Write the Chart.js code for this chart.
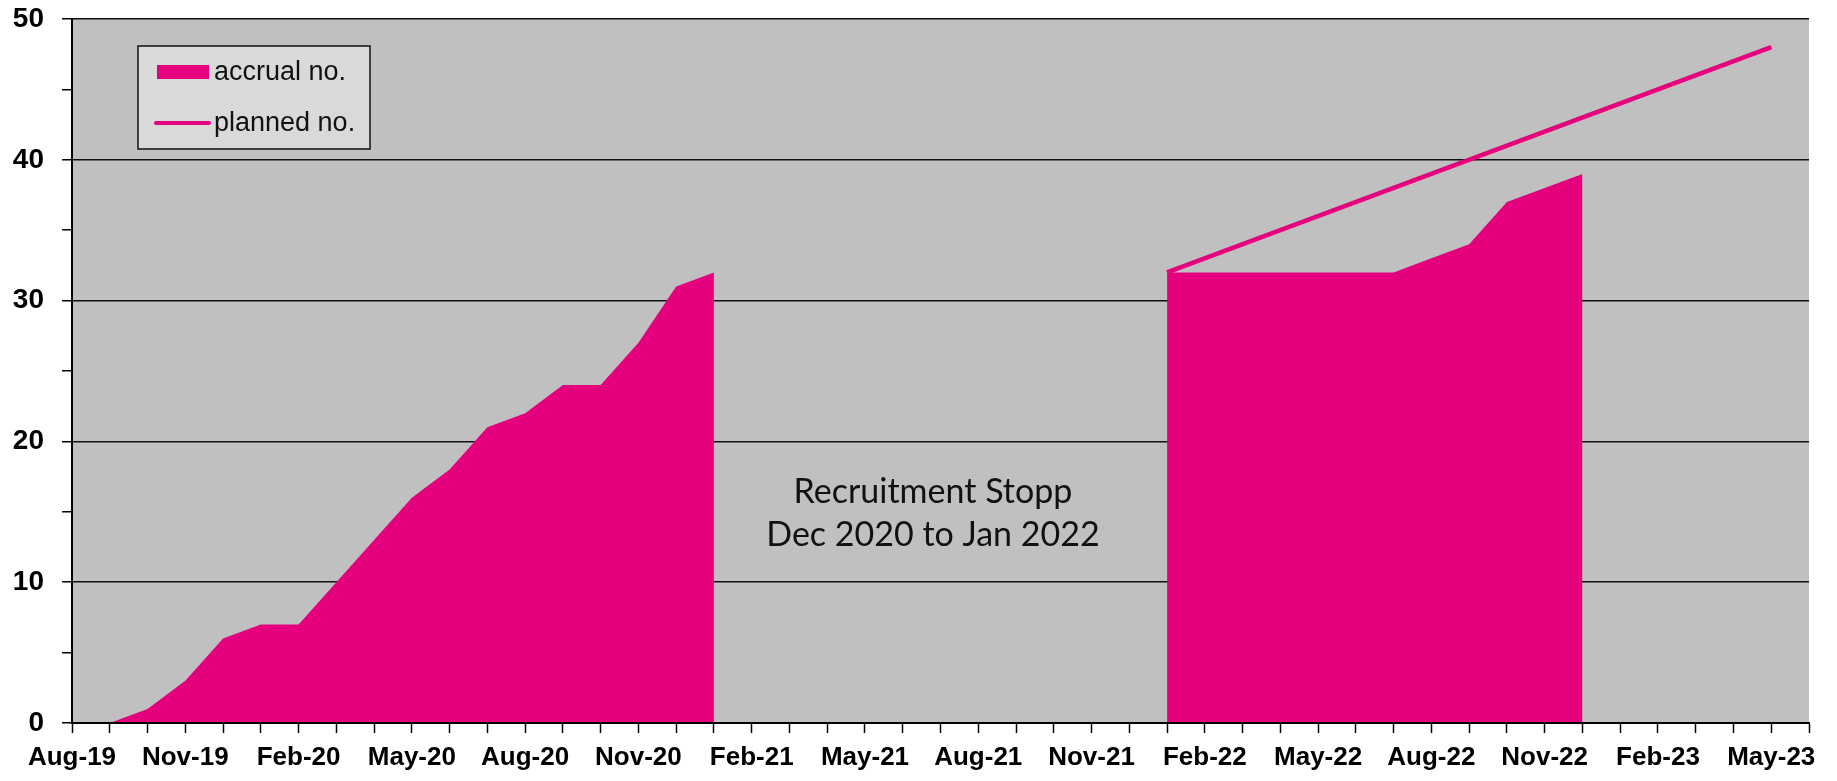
<!DOCTYPE html>
<html>
<head>
<meta charset="utf-8">
<title>Accrual vs planned</title>
<script src="https://cdn.jsdelivr.net/npm/chart.js@4"></script>
<style>
  html, body { margin: 0; padding: 0; background: #fff; }
  #wrap { width: 1837px; height: 781px; position: relative; }
</style>
</head>
<body>
<div id="wrap"><canvas id="chart"></canvas></div>
<script>
// month labels Aug-19 .. Jun-23 (axis ends one month after the last label)
const MONTHS = [
  "Aug-19", "Sep-19", "Oct-19", "Nov-19", "Dec-19", "Jan-20", "Feb-20", "Mar-20", "Apr-20", "May-20",
  "Jun-20", "Jul-20", "Aug-20", "Sep-20", "Oct-20", "Nov-20", "Dec-20", "Jan-21", "Feb-21", "Mar-21",
  "Apr-21", "May-21", "Jun-21", "Jul-21", "Aug-21", "Sep-21", "Oct-21", "Nov-21", "Dec-21", "Jan-22",
  "Feb-22", "Mar-22", "Apr-22", "May-22", "Jun-22", "Jul-22", "Aug-22", "Sep-22", "Oct-22", "Nov-22",
  "Dec-22", "Jan-23", "Feb-23", "Mar-23", "Apr-23", "May-23", "Jun-23"
];

// cumulative accrual (null = recruitment stopped / no data)
const ACCRUAL = [
  null, 0, 1, 3, 6, 7, 7, 10, 13, 16,
  18, 21, 22, 24, 24, 27, 31, 32, null, null,
  null, null, null, null, null, null, null, null, null, 32,
  32, 32, 32, 32, 32, 32, 33, 34, 37, 38,
  39, null, null, null, null, null, null
];

// planned: straight line from Jan-22 to May-23
const PLANNED = MONTHS.map(m => ({ "Jan-22": 32, "May-23": 48 })[m] ?? null);

const Y_TICKS = [0, 10, 20, 30, 40, 50];
const NOTE = ["Recruitment Stopp", "Dec 2020 to Jan 2022"];

const MAGENTA = "#E5007D";
const AXIS_FONT = '"Liberation Sans", Arial, sans-serif';

// grey plot background
const plotBg = {
  id: "plotBg",
  beforeDraw(chart) {
    const { ctx, chartArea: a } = chart;
    ctx.save();
    ctx.fillStyle = "#C0C0C0";
    ctx.fillRect(a.left, a.top, a.right - a.left, a.bottom - a.top);
    ctx.restore();
  }
};

// annotation text in the gap + boxed legend in the top-left corner
const extras = {
  id: "extras",
  afterDraw(chart) {
    const { ctx, chartArea: a, scales } = chart;
    ctx.save();

    // note
    ctx.fillStyle = "#111";
    ctx.font = '34px Lato, "Open Sans", sans-serif';
    ctx.textAlign = "center";
    ctx.textBaseline = "alphabetic";
    const nx = scales.x.getPixelForValue(22.8);
    ctx.fillText(NOTE[0], nx, scales.y.getPixelForValue(15.65));
    ctx.fillText(NOTE[1], nx, scales.y.getPixelForValue(12.55));

    // legend box
    const bx = a.left + 66, by = a.top + 27, bw = 232, bh = 103;
    ctx.fillStyle = "#D9D9D9";
    ctx.fillRect(bx, by, bw, bh);
    ctx.strokeStyle = "#111";
    ctx.lineWidth = 1.5;
    ctx.strokeRect(bx, by, bw, bh);

    const ds = chart.data.datasets;
    ctx.font = '27px "Liberation Sans", Arial, sans-serif';
    ctx.textAlign = "left";

    // accrual swatch (filled box)
    ctx.fillStyle = ds[0].backgroundColor;
    ctx.fillRect(bx + 19, by + 19, 52, 14);
    ctx.fillStyle = "#111";
    ctx.fillText(ds[0].label, bx + 76, by + 34);

    // planned swatch (line)
    ctx.strokeStyle = ds[1].borderColor;
    ctx.lineWidth = 4;
    ctx.lineCap = "round";
    ctx.beginPath();
    ctx.moveTo(bx + 18, by + 77);
    ctx.lineTo(bx + 71, by + 77);
    ctx.stroke();
    ctx.fillText(ds[1].label, bx + 76, by + 85);

    ctx.restore();
  }
};

const ctx = document.getElementById("chart").getContext("2d");
const chart = new Chart(ctx, {
  type: "line",
  data: {
    labels: MONTHS,
    datasets: [
      {
        label: "accrual no.",
        data: ACCRUAL,
        backgroundColor: MAGENTA,
        borderColor: MAGENTA,
        borderWidth: 0,
        pointRadius: 0,
        fill: "origin",
        spanGaps: false,
        tension: 0
      },
      {
        label: "planned no.",
        data: PLANNED,
        borderColor: MAGENTA,
        backgroundColor: MAGENTA,
        borderWidth: 4.5,
        pointRadius: 0,
        fill: false,
        spanGaps: true,
        tension: 0
      }
    ]
  },
  options: {
    responsive: true,
    maintainAspectRatio: false,
    animation: false,
    layout: { padding: { top: 19, right: 28, left: 0, bottom: 0 } },
    plugins: {
      legend: { display: false },
      tooltip: { enabled: false }
    },
    scales: {
      x: {
        type: "category",
        offset: false,
        afterFit: s => { s.height = 58; },
        grid: {
          drawOnChartArea: false,
          drawTicks: true,
          tickLength: 10,
          tickColor: "#000",
          tickWidth: 1.5
        },
        border: { display: true, color: "#000", width: 2, z: 1 },
        ticks: {
          autoSkip: false,
          maxRotation: 0,
          minRotation: 0,
          padding: 9,
          color: "#000",
          font: { family: AXIS_FONT, size: 26, weight: "bold" },
          callback: (v, i) => (i % 3 === 0 ? MONTHS[i] : "")
        }
      },
      y: {
        min: 0,
        max: 50,
        afterFit: s => {
          s.width = 72;
          s.paddingTop = 0;
          s.paddingBottom = 0;
        },
        afterBuildTicks: s => {
          // minor ticks every 5, labelled ones from Y_TICKS
          const t = [];
          for (let v = 0; v <= 50; v += 5) t.push({ value: v });
          s.ticks = t;
        },
        grid: {
          color: c => (Y_TICKS.includes(c.tick.value) ? "#111" : "rgba(0,0,0,0)"),
          lineWidth: 1.5,
          tickLength: 10,
          tickColor: "#000",
          tickWidth: 1.5
        },
        border: { display: true, color: "#000", width: 2, z: 1 },
        ticks: {
          padding: 18,
          color: "#000",
          font: { family: AXIS_FONT, size: 28, weight: "bold" },
          callback: v => (Y_TICKS.includes(v) ? String(v) : "")
        }
      }
    }
  },
  plugins: [plotBg, extras]
});
</script>
</body>
</html>
